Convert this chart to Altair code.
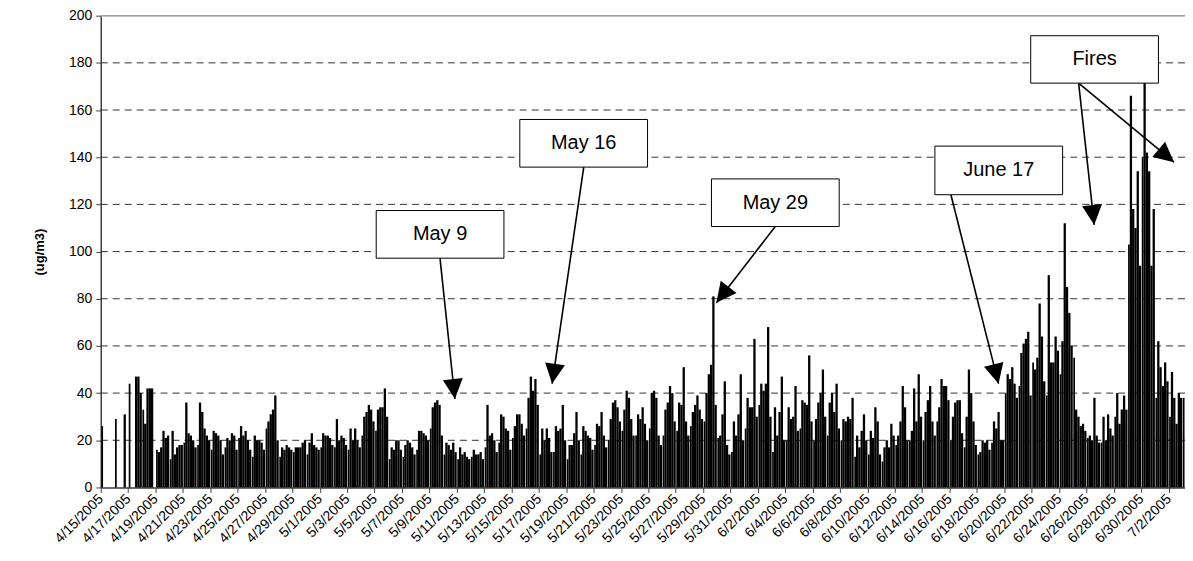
import math
import altair as alt
import pandas as pd

# ---------------- data (4-hour blocks, 6 per day; None = missing) ----------------
april_days = [
    [26, None, None, None, None, None],
    [29, None, None, None, 31, None],
    [44, None, None, 47, 47, 40],
    [33, 27, 42, 42, 42, None],
    [16, 15, 17, 24, 21, 22],
    [12, 24, 14, 17, 18, 18],
    [19, 36, 23, 22, 20, 17],
    [18, 36, 32, 25, 22, 20],
    [16, 24, 23, 22, 20, 14],
    [17, 21, 20, 23, 22, 16],
    [21, 26, 22, 24, 20, 16],
    [13, 22, 20, 20, 19, 16],
    [25, 28, 31, 33, 39, 20],
    [13, 17, 16, 18, 17, 16],
    [15, 17, 17, 17, 19, 20],
    [14, 19, 23, 18, 17, 16],
]
may_days = [
    [17, 23, 22, 22, 21, 18],
    [17, 29, 20, 22, 21, 18],
    [16, 25, 20, 25, 20, 17],
    [22, 30, 32, 35, 33, 28],
    [24, 33, 34, 34, 42, 30],
    [12, 17, 16, 20, 20, 16],
    [13, 18, 20, 19, 17, 14],
    [16, 24, 24, 23, 22, 20],
    [25, 34, 36, 37, 35, 22],
    [14, 19, 18, 16, 19, 15],
    [12, 17, 14, 15, 13, 12],
    [13, 16, 14, 14, 15, 12],
    [17, 35, 22, 23, 20, 15],
    [19, 31, 30, 25, 24, 16],
    [21, 26, 31, 31, 27, 22],
    [25, 38, 47, 41, 46, 35],
    [14, 25, 20, 25, 21, 15],
    [15, 26, 24, 25, 35, 20],
    [12, 18, 18, 23, 32, 20],
    [14, 26, 24, 22, 21, 16],
    [18, 27, 26, 32, 22, 17],
    [20, 29, 36, 37, 34, 28],
    [24, 33, 41, 38, 29, 22],
    [22, 31, 29, 34, 27, 20],
    [25, 40, 41, 38, 22, 18],
    [22, 33, 36, 43, 40, 28],
    [24, 36, 35, 51, 28, 22],
    [26, 32, 35, 39, 33, 29],
    [28, 40, 48, 52, 81, 35],
    [21, 22, 31, 45, 18, 14],
    [15, 28, 22, 31, 48, 20],
]
june_days = [
    [25, 38, 34, 34, 63, 30],
    [35, 44, 41, 44, 68, 30],
    [15, 34, 22, 32, 47, 20],
    [20, 34, 29, 30, 43, 24],
    [25, 37, 36, 35, 56, 28],
    [20, 29, 36, 40, 50, 30],
    [22, 36, 40, 32, 44, 25],
    [20, 29, 28, 30, 29, 38],
    [13, 22, 17, 24, 31, 20],
    [14, 24, 21, 34, 28, 14],
    [11, 17, 20, 17, 27, 22],
    [18, 22, 28, 43, 34, 20],
    [20, 24, 42, 28, 48, 30],
    [20, 32, 37, 43, 28, 22],
    [28, 34, 46, 43, 43, 37],
    [20, 30, 36, 37, 37, 23],
    [17, 30, 50, 40, 28, 18],
    [14, 15, 20, 19, 20, 16],
    [19, 28, 25, 32, 20, 20],
    [40, 48, 46, 51, 44, 38],
    [43, 57, 61, 63, 66, 39],
    [53, 50, 55, 78, 64, 45],
    [39, 90, 53, 53, 64, 58],
    [48, 62, 112, 85, 74, 60],
    [55, 33, 30, 26, 27, 24],
    [21, 22, 20, 38, 22, 19],
    [19, 30, 20, 31, 25, 22],
    [30, 40, 27, 33, 39, 33],
    [103, 166, 118, 110, 134, 94],
    [140, 175, 142, 134, 94, 118],
]
july_days = [
    [38, 62, 51, 43, 53, 45],
    [30, 49, 38, 27, 40, 38],
    [38],
]

tick_labels = [
    "4/15/2005", "4/17/2005", "4/19/2005", "4/21/2005", "4/23/2005", "4/25/2005",
    "4/27/2005", "4/29/2005", "5/1/2005", "5/3/2005", "5/5/2005", "5/7/2005",
    "5/9/2005", "5/11/2005", "5/13/2005", "5/15/2005", "5/17/2005", "5/19/2005",
    "5/21/2005", "5/23/2005", "5/25/2005", "5/27/2005", "5/29/2005", "5/31/2005",
    "6/2/2005", "6/4/2005", "6/6/2005", "6/8/2005", "6/10/2005", "6/12/2005",
    "6/14/2005", "6/16/2005", "6/18/2005", "6/20/2005", "6/22/2005", "6/24/2005",
    "6/26/2005", "6/28/2005", "6/30/2005", "7/2/2005",
]
y_ticks = [0, 20, 40, 60, 80, 100, 120, 140, 160, 180, 200]

# annotations: label, box (day0, day1, val0, val1), arrows from box -> tip (day, value)
note_labels = ["May 9", "May 16", "May 29", "June 17", "Fires"]
note_day0 = [20.12, 30.61, 44.61, 60.93, 67.93]
note_day1 = [29.45, 39.94, 53.94, 70.26, 77.26]
note_val0 = [97.2, 135.8, 110.6, 124.1, 171.4]
note_val1 = [117.4, 156.0, 130.8, 144.7, 191.5]

arrow_start_day = [24.78, 35.28, 49.27, 62.10, 71.43, 71.43]
arrow_start_val = [97.2, 135.8, 110.6, 124.1, 171.4, 171.4]
arrow_tip_day = [25.87, 32.97, 44.97, 65.58, 72.57, 78.40]
arrow_tip_val = [37.5, 44.0, 78.3, 44.0, 111.3, 137.9]

# ---------------- tables ----------------
all_days = april_days + may_days + june_days + july_days
rows = []
for d, day in enumerate(all_days):
    for b, v in enumerate(day):
        if v is None:
            continue
        h0 = b * 4 + (1 if b == 0 else 0)
        rows.append({"x0": d + h0 / 24.0, "x1": d + (b + 1) * 4 / 24.0, "v": v, "base": 0})
bars_df = pd.DataFrame(rows)

W, H = 1087, 473
X_MAX = 79.2
PX_DAY = W / X_MAX
PX_VAL = H / 200.0

tick_days = list(range(0, 2 * len(tick_labels), 2))
label_expr = "[" + ",".join("'%s'" % s for s in tick_labels) + "][round(datum.value/2)]"

grid_df = pd.DataFrame({"g": y_ticks[1:-1]})
top_df = pd.DataFrame({"g": [y_ticks[-1]]})

box_df = pd.DataFrame({
    "label": note_labels,
    "x0": note_day0, "x1": note_day1, "y0": note_val0, "y1": note_val1,
})
box_df["xc"] = (box_df["x0"] + box_df["x1"]) / 2
box_df["yc"] = (box_df["y0"] + box_df["y1"]) / 2

arr_df = pd.DataFrame({
    "xs": arrow_start_day, "ys": arrow_start_val,
    "xt": arrow_tip_day, "yt": arrow_tip_val,
})
angles = []
for xs, ys, xt, yt in zip(arrow_start_day, arrow_start_val, arrow_tip_day, arrow_tip_val):
    dx = (xt - xs) * PX_DAY
    dy = -(yt - ys) * PX_VAL
    angles.append(math.degrees(math.atan2(-dx, dy)) % 360)
arr_df["ang"] = angles

FONT = "Liberation Sans"
xscale = alt.Scale(domain=[0, X_MAX], nice=False, zero=False)
yscale = alt.Scale(domain=[0, 200], nice=False)

bars = alt.Chart(bars_df).mark_rect(color="black", strokeWidth=0).encode(
    x=alt.X("x0:Q", scale=xscale, axis=alt.Axis(
        values=tick_days, tickCount=200, labelExpr=label_expr, labelAngle=-45,
        labelAlign="right", labelBaseline="middle", labelFontSize=14, labelFont=FONT,
        labelColor="black", labelPadding=4, labelOverlap=False, labelBound=False,
        labelFlush=False, tickColor="#404040", tickSize=5, domainColor="#404040",
        domainWidth=1.5, grid=False, title=None)),
    x2="x1:Q",
    y=alt.Y("v:Q", scale=yscale, axis=alt.Axis(
        values=y_ticks, tickCount=50, labelFontSize=14, labelFont=FONT,
        labelColor="black", labelPadding=4, tickColor="#404040", tickSize=5,
        domainColor="#404040", domainWidth=1.5, grid=False, title="(ug/m3)",
        titleFont=FONT, titleFontSize=13, titleFontWeight="bold",
        titleColor="black", titlePadding=22)),
    y2="base:Q",
)

grid = alt.Chart(grid_df).mark_rule(color="#333333", strokeWidth=1, strokeDash=[7, 5]).encode(
    y=alt.Y("g:Q", scale=yscale))
top = alt.Chart(top_df).mark_rule(color="#a0a0a0", strokeWidth=1.5).encode(
    y=alt.Y("g:Q", scale=yscale))

lines = alt.Chart(arr_df).mark_rule(color="black", strokeWidth=1.6).encode(
    x=alt.X("xs:Q", scale=xscale), y=alt.Y("ys:Q", scale=yscale),
    x2="xt:Q", y2="yt:Q")
heads = alt.Chart(arr_df).mark_point(
    shape="M0,0 L-1,-2 L1,-2 Z", filled=True, color="black", opacity=1, size=400
).encode(
    x=alt.X("xt:Q", scale=xscale), y=alt.Y("yt:Q", scale=yscale),
    angle=alt.Angle("ang:Q", scale=None))

boxes = alt.Chart(box_df).mark_rect(fill="white", stroke="black", strokeWidth=1).encode(
    x=alt.X("x0:Q", scale=xscale), x2="x1:Q",
    y=alt.Y("y0:Q", scale=yscale), y2="y1:Q")
texts = alt.Chart(box_df).mark_text(font=FONT, fontSize=20, color="black",
                                    align="center", baseline="middle").encode(
    x=alt.X("xc:Q", scale=xscale), y=alt.Y("yc:Q", scale=yscale), text="label:N")

chart = alt.layer(grid, top, bars, lines, heads, boxes, texts).properties(
    width=W, height=H,
    autosize=alt.AutoSizeParams(type="none"),
    padding={"left": 93, "top": 7, "right": 0, "bottom": 60},
).configure_view(stroke=None).configure(background="white")

chart.save("out.html", embed_options={"renderer": "svg", "actions": False})
